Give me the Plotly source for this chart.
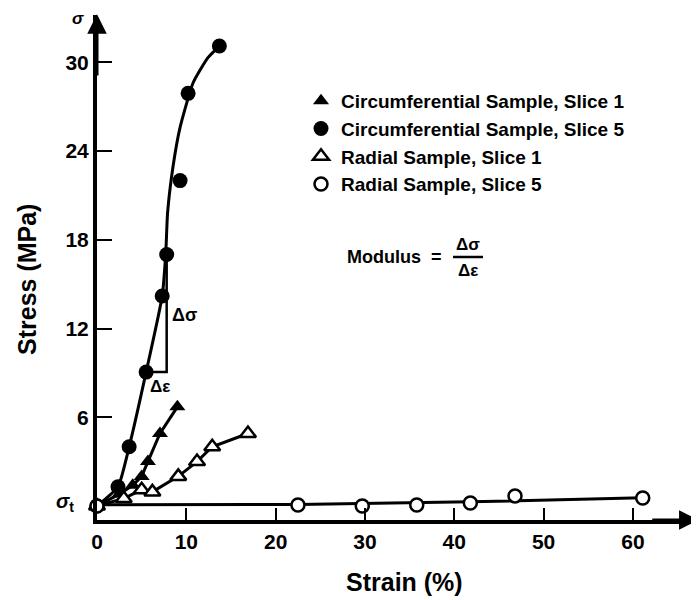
import plotly.graph_objects as go

# ---- data ----
circ1_strain = [0, 2.5, 4.0, 5.0, 5.7, 7.05, 9.0]
circ1_stress = [0, 0.8, 1.4, 2.0, 3.0, 4.9, 6.7]

circ5_strain = [0, 2.35, 3.6, 5.5, 7.3, 7.8, 9.3, 10.2, 13.7]
circ5_stress = [0, 1.3, 4.0, 9.05, 14.2, 17.0, 22.0, 27.9, 31.1]
circ5_fit_strain = [0, 2.35, 3.6, 5.5, 7.3, 7.7, 7.9, 8.5, 9.3, 10.75, 12.4, 13.7]
circ5_fit_stress = [0, 1.3, 4.0, 9.05, 14.2, 17.1, 19.8, 22.9, 25.6, 28.6, 30.3, 31.1]

rad1_strain = [0, 3.0, 5.0, 6.2, 9.1, 11.2, 12.9, 16.9]
rad1_stress = [0, 0.5, 1.1, 0.95, 2.0, 3.0, 4.0, 4.9]

rad5_strain = [0, 22.5, 29.7, 35.8, 41.8, 46.8, 61.1]
rad5_stress = [0, 0.07, 0.0, 0.07, 0.2, 0.68, 0.54]
rad5_fit_strain = [0, 22.5, 41.8, 61.1]
rad5_fit_stress = [0.08, 0.1, 0.28, 0.55]

x_ticks = [0, 10, 20, 30, 40, 50, 60]
y_ticks = [6, 12, 18, 24, 30]
names = ["Circumferential Sample, Slice 1", "Circumferential Sample, Slice 5",
         "Radial Sample, Slice 1", "Radial Sample, Slice 5"]

FONT = "Liberation Sans"
K = "black"

# plot area on screen: x 97..699, y 15..520 (page body adds an 8px offset)
def px(sx):
    return (sx - 97) / 602

def py(sy):
    return (520 - sy) / 505

fig = go.Figure()

# fitted / connecting lines
fig.add_trace(go.Scatter(x=circ1_strain, y=circ1_stress, mode="lines",
                         line=dict(color=K, width=3), showlegend=False, hoverinfo="skip"))
fig.add_trace(go.Scatter(x=circ5_fit_strain, y=circ5_fit_stress, mode="lines",
                         line=dict(color=K, width=3, shape="spline", smoothing=0.5),
                         showlegend=False, hoverinfo="skip"))
fig.add_trace(go.Scatter(x=rad1_strain, y=rad1_stress, mode="lines",
                         line=dict(color=K, width=3), showlegend=False, hoverinfo="skip"))
fig.add_trace(go.Scatter(x=rad5_fit_strain, y=rad5_fit_stress, mode="lines",
                         line=dict(color=K, width=3), showlegend=False, hoverinfo="skip"))

# modulus triangle (built from the slice-5 circumferential points)
box_right = circ5_strain[5]
fig.add_trace(go.Scatter(x=[circ5_strain[3], box_right, box_right],
                         y=[circ5_stress[3], circ5_stress[3], circ5_stress[5]],
                         mode="lines", line=dict(color=K, width=2.5),
                         showlegend=False, hoverinfo="skip"))

# markers
fig.add_trace(go.Scatter(x=circ1_strain, y=circ1_stress, mode="markers", name=names[0],
                         marker=dict(symbol="triangle-up", size=14, color=K),
                         cliponaxis=False))
fig.add_trace(go.Scatter(x=circ5_strain, y=circ5_stress, mode="markers", name=names[1],
                         marker=dict(symbol="circle", size=15, color=K),
                         cliponaxis=False))
fig.add_trace(go.Scatter(x=rad1_strain, y=rad1_stress, mode="markers", name=names[2],
                         marker=dict(symbol="triangle-up", size=14, color="white",
                                     line=dict(width=2.5, color=K)),
                         cliponaxis=False))
fig.add_trace(go.Scatter(x=rad5_strain, y=rad5_stress, mode="markers", name=names[3],
                         marker=dict(symbol="circle", size=13, color="white",
                                     line=dict(width=2.5, color=K)),
                         cliponaxis=False))


def label(x, y, text, size, **kw):
    d = dict(x=x, y=y, xref="paper", yref="paper", text=text, showarrow=False,
             xanchor="center", yanchor="middle",
             font=dict(size=size, family=FONT, color=K))
    d.update(kw)
    return d


ann = []
# axis arrows
ann.append(dict(x=0, y=33.25, ax=0, ay=29, xref="x", yref="y", axref="x", ayref="y",
                text="", showarrow=True, arrowhead=2, arrowsize=1.3, arrowwidth=3, arrowcolor=K))
ann.append(dict(x=67.35, y=-0.95, ax=62, ay=-0.95, xref="x", yref="y", axref="x", ayref="y",
                text="", showarrow=True, arrowhead=2, arrowsize=1.3, arrowwidth=3, arrowcolor=K))
# axis symbols
ann.append(label(px(78), py(18), "<b><i>σ</i></b>", 17))
ann.append(label(px(65), py(502), "<b><i>σ</i><sub>t</sub></b>", 20))
ann.append(label(px(695), py(532), "<b><i>ε</i></b>", 17, xanchor="left"))
# axis titles
ann.append(label(px(27), py(280), "<b>Stress (MPa)</b>", 25, textangle=-90))
ann.append(label(px(404), py(582), "<b>Strain (%)</b>", 25))
# delta labels
ann.append(dict(x=9.85, y=12.9, xref="x", yref="y", text="<b>Δσ</b>", showarrow=False,
                xanchor="center", yanchor="middle", font=dict(size=18, family=FONT, color=K)))
ann.append(dict(x=7.0, y=8.1, xref="x", yref="y", text="<b>Δε</b>", showarrow=False,
                xanchor="center", yanchor="middle", font=dict(size=17, family=FONT, color=K)))
# modulus formula
ann.append(label(px(394), py(257), "<b>Modulus  =</b>", 18))
ann.append(label(px(468), py(245), "<b>Δσ</b>", 17))
ann.append(label(px(468), py(270), "<b>Δε</b>", 17))

fig.update_layout(
    width=699, height=600,
    margin=dict(l=89, r=8, t=7, b=88),
    paper_bgcolor="white", plot_bgcolor="white",
    font=dict(family=FONT, color=K),
    annotations=ann,
    shapes=[dict(type="line", xref="paper", yref="paper",
                 x0=px(453), x1=px(483), y0=py(257), y1=py(257),
                 line=dict(color=K, width=2.5))],
    legend=dict(x=px(301), y=py(82), xanchor="left", yanchor="top",
                bgcolor="rgba(0,0,0,0)", font=dict(size=19, family=FONT, color=K, weight="bold"),
                itemwidth=30, tracegroupgap=0),
    showlegend=True,
)
fig.update_xaxes(range=[0, 67.4], tickvals=x_ticks, ticktext=[f"<b>{v}</b>" for v in x_ticks],
                 ticks="inside", ticklen=12, tickwidth=2, tickcolor=K,
                 showline=True, linewidth=4, linecolor=K, showgrid=False, zeroline=False,
                 tickfont=dict(size=21, family=FONT, color=K))
fig.update_yaxes(range=[-0.95, 33.2], tickvals=y_ticks, ticktext=[f"<b>{v}</b>" for v in y_ticks],
                 ticks="inside", ticklen=15, tickwidth=2, tickcolor=K,
                 showline=True, linewidth=4, linecolor=K, showgrid=False, zeroline=False,
                 tickfont=dict(size=21, family=FONT, color=K))

fig.write_html("out.html")
